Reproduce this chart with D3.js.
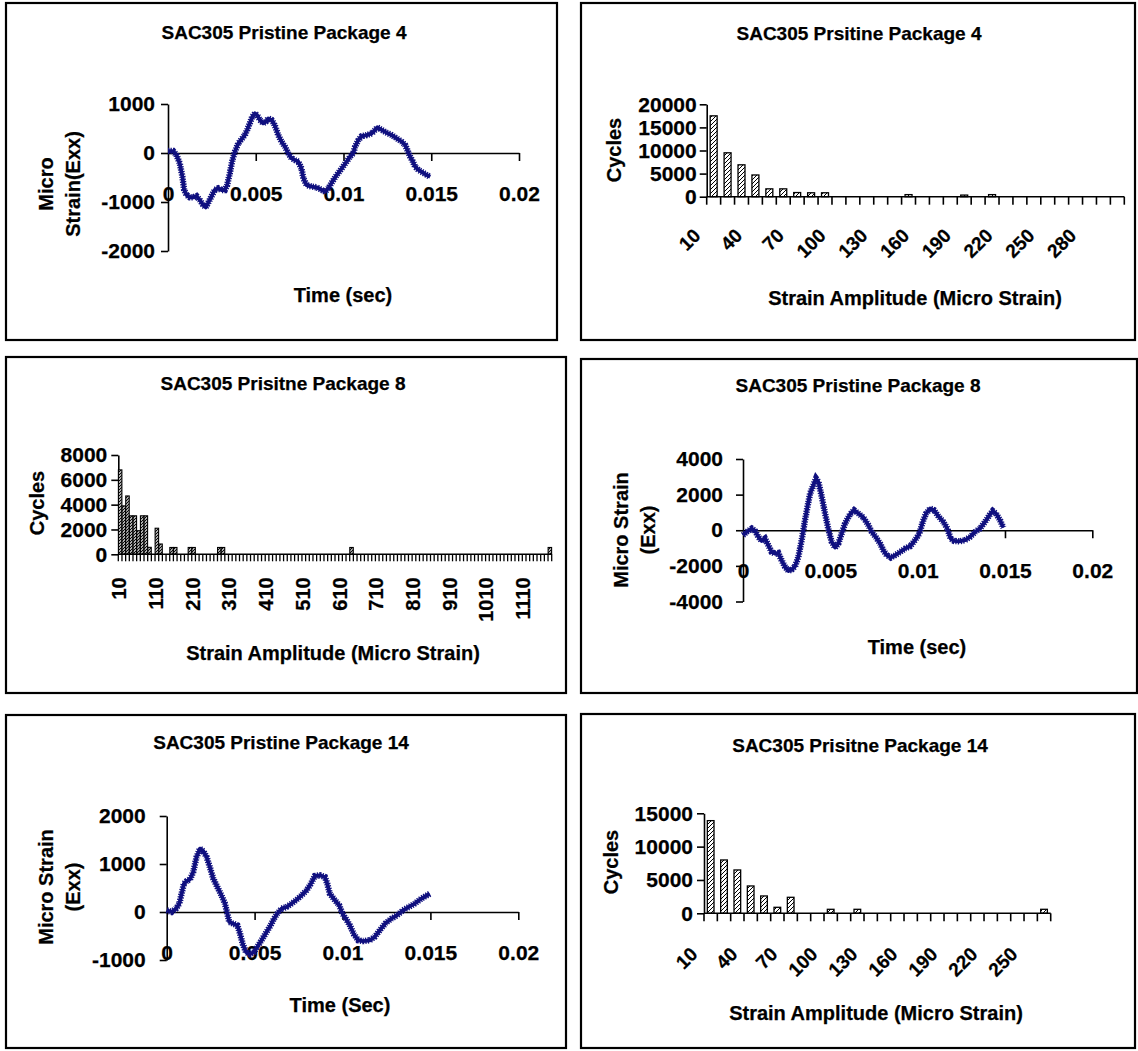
<!DOCTYPE html>
<html>
<head>
<meta charset="utf-8">
<script src="https://d3js.org/d3.v7.min.js"></script>
<style>
body { margin: 0; background: #fff; }
text { font-family: "Liberation Sans", Arial, sans-serif; font-weight: bold; fill: #000;
       stroke: #000; stroke-width: 0.25px; }
</style>
</head>
<body>
<svg id="vis" width="1138" height="1051"></svg>
<script>
// ---- data ----
// strain vs time, times in ms, micro strain
var p4Time   = [0,0.29,0.48,0.67,0.82,0.92,1.05,1.24,1.43,1.62,1.81,2.00,2.15,2.28,2.47,2.66,2.86,3.05,3.24,3.37,3.52,3.67,3.81,4.00,4.19,4.38,4.51,4.66,4.80,4.95,5.08,5.23,5.42,5.58,5.71,5.90,6.03,6.15,6.28,6.47,6.66,6.85,7.04,7.23,7.42,7.61,7.71,7.90,8.18,8.47,8.76,8.95,9.14,9.33,9.61,9.90,10.18,10.37,10.56,10.66,10.85,11.04,11.32,11.61,11.80,11.93,12.18,12.46,12.75,13.03,13.32,13.51,13.64,13.80,13.95,14.08,14.27,14.52,14.75,14.94];
var p4Strain = [40,40,-40,-210,-480,-755,-855,-905,-905,-880,-960,-1060,-1110,-1025,-890,-755,-720,-755,-755,-655,-415,-145,25,195,280,365,470,605,740,810,775,675,605,640,705,675,605,505,365,230,130,-5,-110,-145,-175,-315,-515,-655,-685,-700,-755,-790,-720,-605,-450,-315,-175,-75,-5,130,265,345,365,400,470,525,470,415,365,300,230,165,60,-75,-175,-280,-345,-400,-450,-485];

var p8Time   = [0,0.21,0.50,0.69,0.88,1.07,1.26,1.45,1.64,1.83,2.02,2.21,2.41,2.60,2.79,2.98,3.17,3.36,3.55,3.69,3.84,4.03,4.18,4.32,4.51,4.70,4.90,5.08,5.27,5.46,5.65,5.84,6.13,6.36,6.61,6.90,7.18,7.37,7.62,7.85,8.04,8.23,8.46,8.71,9.00,9.28,9.57,9.85,10.10,10.29,10.48,10.71,10.94,11.19,11.47,11.70,11.89,12.08,12.39,12.71,13.00,13.29,13.57,13.86,14.11,14.30,14.49,14.72,14.91];
var p8Strain = [-280,-95,95,-35,-375,-600,-470,-845,-1220,-1310,-1275,-1685,-2060,-2285,-2210,-2025,-1500,-560,560,1310,2060,2530,2900,2715,1875,935,0,-655,-975,-750,-185,375,900,1125,935,710,280,-95,-410,-750,-1125,-1405,-1535,-1405,-1220,-1030,-900,-560,-185,470,935,1220,1125,785,470,95,-470,-600,-620,-560,-375,-95,95,470,845,1085,935,560,150];

var p14Time   = [0,0.28,0.53,0.72,0.85,0.98,1.14,1.32,1.51,1.70,1.89,2.08,2.27,2.45,2.65,2.88,3.12,3.31,3.45,3.56,3.79,4.02,4.17,4.32,4.51,4.73,4.96,5.21,5.45,5.68,5.91,6.10,6.29,6.53,6.82,7.10,7.39,7.67,7.95,8.18,8.43,8.71,9.00,9.13,9.28,9.57,9.81,10.00,10.19,10.42,10.65,10.89,11.17,11.55,11.83,12.12,12.46,12.78,13.10,13.44,13.78,14.11,14.49,14.96];
var p14Strain = [35,0,70,175,385,590,645,675,835,1145,1320,1270,1145,940,695,520,345,175,-35,-210,-245,-280,-450,-660,-835,-880,-835,-695,-555,-415,-280,-140,-35,70,105,175,255,345,450,575,750,765,730,590,380,245,140,-35,-140,-280,-465,-590,-605,-590,-520,-380,-230,-140,-70,35,105,175,280,380];

// rainflow histograms: amplitude bins with a count (empty bins left out)
var p4Amp    = [10,20,30,40,50,60,70,80,90,150,190,210];
var p4Cycles = [17500,9500,6900,4700,1700,1700,900,850,850,450,350,450];
var p8Amp    = [10,20,30,40,50,60,70,80,90,110,120,150,160,200,210,280,290,640,1180];
var p8Cycles = [6800,3900,4700,3100,3100,1900,3100,3100,560,2100,830,550,550,550,550,550,550,550,550];
var p14Amp    = [10,20,30,40,50,60,70,100,120,260];
var p14Cycles = [13900,8000,6500,4100,2600,900,2400,600,600,600];

// bin categories and tick labels
var p4Bins  = d3.range(10, 310, 10);
var p8Bins  = d3.range(10, 1190, 10);
var p14Bins = d3.range(10, 270, 10);
var timeTicks = [0, 0.005, 0.01, 0.015, 0.02];
var timeLabels = ["0", "0.005", "0.01", "0.015", "0.02"];

var svg = d3.select("#vis");

var defs = svg.append("defs");
defs.append("pattern")
  .attr("id", "hatch")
  .attr("patternUnits", "userSpaceOnUse")
  .attr("width", 4).attr("height", 4)
  .call(function(p) {
    p.append("rect").attr("width", 4).attr("height", 4).attr("fill", "#fff");
    p.append("path").attr("d", "M-1,1 l2,-2 M0,4 l4,-4 M3,5 l2,-2")
      .attr("stroke", "#000").attr("stroke-width", 1);
  });
defs.append("pattern")
  .attr("id", "hatchDark")
  .attr("patternUnits", "userSpaceOnUse")
  .attr("width", 3).attr("height", 3)
  .call(function(p) {
    p.append("rect").attr("width", 3).attr("height", 3).attr("fill", "#fff");
    p.append("path").attr("d", "M-1,1 l2,-2 M0,3 l3,-3 M2,4 l2,-2")
      .attr("stroke", "#000").attr("stroke-width", 1.2);
  });

function frame(x0, y0, x1, y1, title, tx, ty) {
  svg.append("rect")
    .attr("x", x0).attr("y", y0).attr("width", x1 - x0).attr("height", y1 - y0)
    .attr("fill", "#fff").attr("stroke", "#000").attr("stroke-width", 2.2);
  svg.append("text").attr("x", tx).attr("y", ty).attr("dy", "0.35em")
    .attr("text-anchor", "middle").attr("font-size", 19).text(title);
}

function vTitle(lines, xs, cy) {
  lines.forEach(function(s, i) {
    svg.append("text")
      .attr("transform", "translate(" + xs[i] + "," + cy + ") rotate(-90)")
      .attr("text-anchor", "middle").attr("dy", "0.35em")
      .attr("font-size", 20).text(s);
  });
}

function hTitle(s, cx, cy) {
  svg.append("text").attr("x", cx).attr("y", cy).attr("dy", "0.35em")
    .attr("text-anchor", "middle").attr("font-size", 20).text(s);
}

function styleAxis(g) {
  g.select(".domain").attr("stroke", "#000").attr("stroke-width", 1.6);
  g.selectAll(".tick line").attr("stroke", "#000").attr("stroke-width", 1.6);
  g.selectAll(".tick text").attr("font-size", 21).attr("fill", "#000")
    .style("font-family", "'Liberation Sans', Arial, sans-serif").style("font-weight", "bold");
}

// time history panel
function linePanel(o) {
  var x = d3.scaleLinear().domain([0, 0.02]).range([o.left, o.right]);
  var y = d3.scaleLinear().domain(o.yDomain).range([o.bottom, o.top]);

  var ya = svg.append("g").attr("transform", "translate(" + o.left + ",0)")
    .call(d3.axisLeft(y).tickValues(o.yTicks).tickSize(7).tickSizeOuter(0)
      .tickPadding(o.pad).tickFormat(function(d) { return String(d); }));
  styleAxis(ya);

  var xa = svg.append("g").attr("transform", "translate(0," + y(0) + ")")
    .call(d3.axisBottom(x).tickValues(timeTicks).tickSize(8).tickSizeOuter(0)
      .tickPadding(25).tickFormat(function(d, i) { return timeLabels[i]; }));
  styleAxis(xa);
  xa.selectAll(".tick line").filter(function(d) { return d === 0; }).remove();

  var pts = o.t.map(function(t, i) { return [t / 1000, o.v[i]]; });
  var line = d3.line().x(function(d) { return x(d[0]); }).y(function(d) { return y(d[1]); });
  svg.append("path").datum(pts).attr("d", line)
    .attr("fill", "none").attr("stroke", "#10107f").attr("stroke-width", 3.8)
    .attr("stroke-linejoin", "round");
  svg.append("path").datum(pts).attr("d", line)
    .attr("fill", "none").attr("stroke", "#10107f").attr("stroke-width", 6.4)
    .attr("stroke-dasharray", "1.3,1.2");
}

// histogram panel
function barPanel(o) {
  var x = d3.scaleBand().domain(o.bins).range([o.left, o.right])
    .paddingInner(o.gap).paddingOuter(o.gap / 2);
  var y = d3.scaleLinear().domain(o.yDomain).range([o.bottom, o.top]);

  var ya = svg.append("g").attr("transform", "translate(" + o.left + ",0)")
    .call(d3.axisLeft(y).tickValues(o.yTicks).tickSize(7).tickSizeOuter(0)
      .tickPadding(o.pad).tickFormat(function(d) { return String(d); }));
  styleAxis(ya);

  var bw = (o.right - o.left) / o.bins.length;
  var g = svg.append("g");
  g.selectAll("rect").data(o.amp).enter().append("rect")
    .attr("x", function(d) { return x(d); })
    .attr("width", x.bandwidth())
    .attr("y", function(d, i) { return y(o.cyc[i]); })
    .attr("height", function(d, i) { return y(0) - y(o.cyc[i]); })
    .attr("fill", o.fill).attr("stroke", "#000").attr("stroke-width", o.barStroke);

  // category axis, ticks between bins
  svg.append("line").attr("x1", o.left).attr("x2", o.right)
    .attr("y1", y(0)).attr("y2", y(0)).attr("stroke", "#000").attr("stroke-width", 1.6);
  svg.append("g").selectAll("line").data(d3.range(o.bins.length + 1)).enter().append("line")
    .attr("x1", function(i) { return o.left + i * bw; })
    .attr("x2", function(i) { return o.left + i * bw; })
    .attr("y1", y(0)).attr("y2", y(0) + o.tick)
    .attr("stroke", "#000").attr("stroke-width", o.tickStroke);

  var shown = o.bins.filter(function(d, i) { return i % o.every === 0; });
  svg.append("g").selectAll("text").data(shown).enter().append("text")
    .attr("transform", function(d) {
      var cx = x(d) + x.bandwidth() / 2;
      return "translate(" + (cx + o.lx) + "," + (y(0) + o.ly) + ") rotate(" + o.rot + ")";
    })
    .attr("text-anchor", "end")
    .attr("dy", o.rot === -90 ? "0.35em" : 0)
    .attr("font-size", o.lsize)
    .text(function(d) { return d; });
}

// ---- top left: package 4 time history ----
frame(6, 3, 557, 340, "SAC305 Pristine Package 4", 284, 32);
linePanel({ left: 168, right: 519, top: 104, bottom: 251, yDomain: [-2000, 1000],
  yTicks: [-2000, -1000, 0, 1000], pad: 6, t: p4Time, v: p4Strain });
vTitle(["Micro", "Strain(Exx)"], [46, 73], 184);
hTitle("Time (sec)", 343, 295);

// ---- top right: package 4 histogram ----
frame(581, 3, 1135, 340, "SAC305 Prsitine Package 4", 859, 33);
barPanel({ left: 706.7, right: 1124.3, top: 104.3, bottom: 196.7, yDomain: [0, 20000],
  yTicks: [0, 5000, 10000, 15000, 20000], pad: 3, bins: p4Bins, amp: p4Amp, cyc: p4Cycles,
  gap: 0.5, every: 3, rot: -45, lx: -12, ly: 40, lsize: 19, tick: 8,
  barStroke: 1.3, tickStroke: 1.6, fill: "url(#hatch)" });
vTitle(["Cycles"], [614], 150);
hTitle("Strain Amplitude (Micro Strain)", 915, 298);

// ---- middle left: package 8 histogram ----
frame(6, 357, 566, 693, "SAC305 Prisitne Package 8", 283, 383);
barPanel({ left: 118.3, right: 551.7, top: 455, bottom: 554.3, yDomain: [0, 8000],
  yTicks: [0, 2000, 4000, 6000, 8000], pad: 4, bins: p8Bins, amp: p8Amp, cyc: p8Cycles,
  gap: 0.05, every: 10, rot: -90, lx: -1, ly: 23, lsize: 20, tick: 7,
  barStroke: 1.1, tickStroke: 1.3, fill: "url(#hatchDark)" });
vTitle(["Cycles"], [37], 503);
hTitle("Strain Amplitude (Micro Strain)", 333, 653);

// ---- middle right: package 8 time history ----
frame(581, 359, 1137, 693, "SAC305 Pristine Package 8", 858, 385);
linePanel({ left: 743, right: 1092.3, top: 459, bottom: 601.5, yDomain: [-4000, 4000],
  yTicks: [-4000, -2000, 0, 2000, 4000], pad: 13, t: p8Time, v: p8Strain });
vTitle(["Micro Strain", "(Exx)"], [621, 648], 530);
hTitle("Time (sec)", 917, 647);

// ---- bottom left: package 14 time history ----
frame(6, 715, 566, 1048, "SAC305 Pristine Package 14", 281, 742);
linePanel({ left: 166.7, right: 518.3, top: 816, bottom: 960, yDomain: [-1000, 2000],
  yTicks: [-1000, 0, 1000, 2000], pad: 14, t: p14Time, v: p14Strain });
vTitle(["Micro Strain", "(Exx)"], [46, 73], 887);
hTitle("Time (Sec)", 340, 1005);

// ---- bottom right: package 14 histogram ----
frame(581, 714, 1135, 1048, "SAC305 Prisitne Package 14", 860, 745);
barPanel({ left: 704, right: 1050.7, top: 813.3, bottom: 913.3, yDomain: [0, 15000],
  yTicks: [0, 5000, 10000, 15000], pad: 4, bins: p14Bins, amp: p14Amp, cyc: p14Cycles,
  gap: 0.5, every: 3, rot: -45, lx: -12, ly: 42, lsize: 19, tick: 8,
  barStroke: 1.3, tickStroke: 1.6, fill: "url(#hatch)" });
vTitle(["Cycles"], [611], 862);
hTitle("Strain Amplitude (Micro Strain)", 876, 1013);
</script>
</body>
</html>
